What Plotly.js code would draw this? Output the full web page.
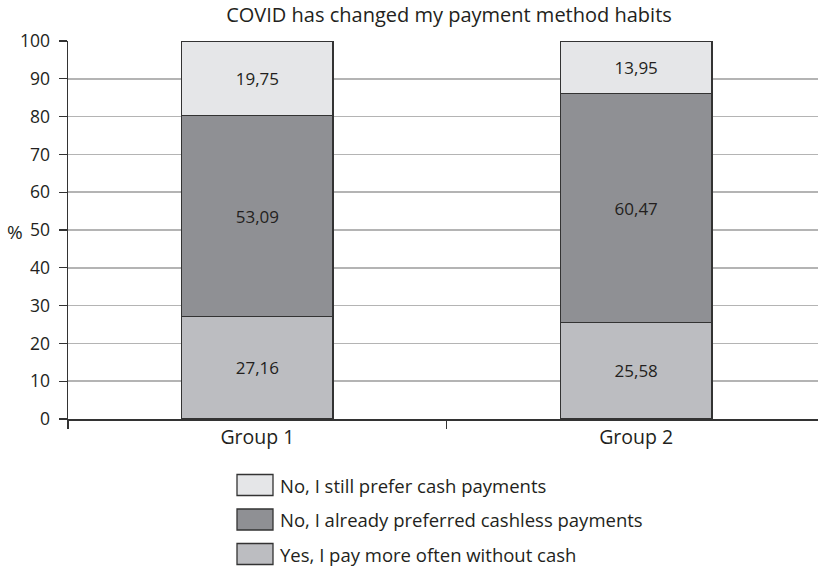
<!DOCTYPE html>
<html>
<head>
<meta charset="utf-8">
<script src="https://cdn.plot.ly/plotly-3.0.1.min.js"></script>
<style>html,body{margin:0;padding:0;background:#fff;}#chart{width:818px;height:568px;}</style>
</head>
<body>
<div id="chart"></div>
<script>
const categories = ["Group 1", "Group 2"];
const seriesNames = [
  "Yes, I pay more often without cash",
  "No, I already preferred cashless payments",
  "No, I still prefer cash payments"
];
const yesMoreOftenCashless = [27.16, 25.58];
const alreadyCashless = [53.09, 60.47];
const stillPreferCash = [19.75, 13.95];
const seriesColors = ["#bcbdc1", "#8f9094", "#e5e6e8"];
const yTickValues = [0, 10, 20, 30, 40, 50, 60, 70, 80, 90, 100];

const seriesValues = [yesMoreOftenCashless, alreadyCashless, stillPreferCash];
const FONT = "Open Sans, DejaVu Sans, sans-serif";
const TXT = "#231f20";

// plot-area geometry (pixels) used to place the hand-built legend
const W = 818, H = 568, ML = 68, MT = 41, MB = 149;
const plotW = W - ML, plotH = H - MT - MB;
const px2x = p => (p - ML) / plotW;
const px2y = p => (H - MB - p) / plotH;

const traces = seriesValues.map((vals, i) => ({
  type: "bar",
  name: seriesNames[i],
  x: categories,
  y: vals,
  width: 0.4,
  marker: {color: seriesColors[i], line: {color: "#333333", width: 1.5}},
  texttemplate: "%{y:.2f}",
  textposition: "inside",
  insidetextanchor: "middle",
  textfont: {family: FONT, size: 17, color: TXT},
  showlegend: false,
  hoverinfo: "skip"
}));

// legend (top item = last series), boxes + labels
const shapes = [], annotations = [];
const legendRows = [seriesNames.length - 1, 1, 0];
legendRows.forEach((si, r) => {
  const cy = 485 + r * 34.5;
  shapes.push({
    type: "rect", xref: "paper", yref: "paper",
    x0: px2x(237), x1: px2x(273), y0: px2y(cy - 10.5), y1: px2y(cy + 10.5),
    fillcolor: seriesColors[si], line: {color: "#333333", width: 1.3}
  });
  annotations.push({
    text: seriesNames[si], xref: "paper", yref: "paper",
    x: px2x(278), y: px2y(cy), xanchor: "left", yanchor: "middle",
    showarrow: false, font: {family: FONT, size: 18.5, color: TXT}
  });
});
annotations.push({
  text: "%", xref: "paper", yref: "paper", x: px2x(15), y: px2y(232),
  xanchor: "center", yanchor: "middle", showarrow: false,
  font: {family: FONT, size: 19, color: TXT}
});

const layout = {
  width: W,
  height: H,
  barmode: "stack",
  separators: ",.",
  paper_bgcolor: "#ffffff",
  plot_bgcolor: "#ffffff",
  margin: {l: ML, r: 0, t: MT, b: MB, pad: 0},
  title: {
    text: "COVID has changed my payment method habits",
    font: {family: FONT, size: 20, color: TXT},
    x: 449 / W, xanchor: "center", y: 1 - 15 / H, yanchor: "middle"
  },
  font: {family: FONT, size: 18, color: TXT},
  showlegend: false,
  xaxis: {
    type: "category",
    range: [-0.5, 1.48],
    showline: true, linecolor: "#333", linewidth: 1.5,
    ticks: "outside", tickson: "boundaries", ticklen: 8, tickcolor: "#333", tickwidth: 1.2,
    showgrid: false,
    tickfont: {family: FONT, size: 19.5, color: TXT},
    fixedrange: true
  },
  yaxis: {
    range: [0, 100],
    tickvals: yTickValues,
    showline: true, linecolor: "#333", linewidth: 1.5,
    ticks: "outside", ticklen: 8, tickcolor: "#333", tickwidth: 1.2,
    ticklabelstandoff: 5,
    showgrid: true, gridcolor: "#b4b4b4", gridwidth: 1.5,
    zeroline: false,
    tickfont: {family: FONT, size: 17.5, color: TXT},
    fixedrange: true
  },
  shapes: shapes,
  annotations: annotations
};

Plotly.newPlot("chart", traces, layout, {displayModeBar: false, staticPlot: true});
</script>
</body>
</html>
